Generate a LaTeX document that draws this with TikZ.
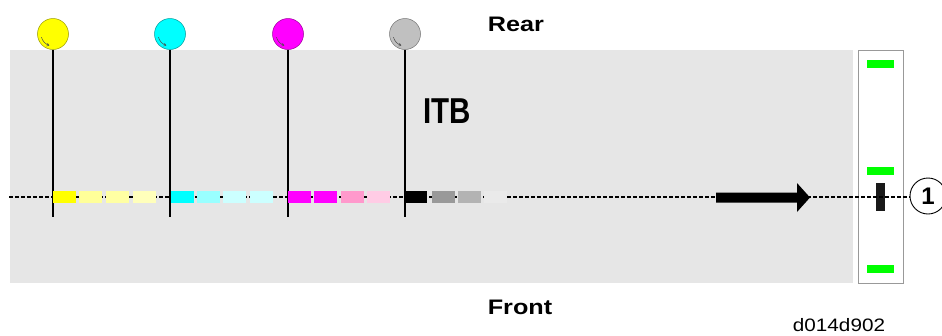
\documentclass[tikz,border=0pt]{standalone}
\usepackage{fontspec}
\setmainfont{Liberation Sans}
\usetikzlibrary{arrows.meta,calc}
\definecolor{band}{HTML}{E6E6E6}
\definecolor{boxline}{HTML}{999999}
\definecolor{grn}{HTML}{00FF00}
\definecolor{rollY}{HTML}{FFFF00}
\definecolor{rollC}{HTML}{00FFFF}
\definecolor{rollM}{HTML}{FF00FF}
\definecolor{rollK}{HTML}{C0C0C0}
\definecolor{y2}{HTML}{FFFF99}
\definecolor{y3}{HTML}{FFFFA3}
\definecolor{y4}{HTML}{FFFFBB}
\definecolor{c2}{HTML}{99FFFF}
\definecolor{c3}{HTML}{CCFFFF}
\definecolor{c4}{HTML}{CCFFFF}
\definecolor{m3}{HTML}{FF99CC}
\definecolor{m4}{HTML}{FFCCE5}
\definecolor{k2}{HTML}{999999}
\definecolor{k3}{HTML}{B3B3B3}
\definecolor{k4}{HTML}{EAEAEA}
\tikzset{
  roller/.style={circle, draw=#1!60!black, line width=0.5pt, fill=#1, minimum size=31pt, inner sep=0pt},
  patch/.style={rectangle, fill=#1, minimum width=22.5pt, minimum height=12pt, inner sep=0pt, anchor=west},
  shaft/.style={line width=1.6pt, black},
  greenbar/.style={rectangle, fill=grn, minimum width=27pt, minimum height=8pt, inner sep=0pt},
  bigtext/.style={font=\bfseries\fontsize{21}{21}\selectfont, xscale=1.2},
  rotarrow/.style={draw=black!70, line width=0.5pt, -{Straight Barb[length=2pt,width=3pt]}}
}
\begin{document}
\begin{tikzpicture}[x=1pt,y=-1pt]
\useasboundingbox (0,0) rectangle (942,335);
% ITB band
\fill[band] (10,50) rectangle (853,283);
% right box
\node[draw=boxline, line width=0.6pt, fill=white, minimum width=45pt, minimum height=233pt, inner sep=0pt] (sbox) at (880.5,166.5) {};
\node[greenbar] (g1) at (880.5,63.5) {};
\node[greenbar] (g2) at (880.5,171) {};
\node[greenbar] (g3) at (880.5,269) {};
\node[rectangle, fill=black!90, minimum width=9pt, minimum height=28pt, inner sep=0pt] (sensor) at (880.5,197) {};
% callout
\node[circle, draw=black, line width=0.9pt, minimum size=36pt, inner sep=0pt, font=\bfseries\fontsize{24}{24}\selectfont] (c1) at (928,196) {1};
% dashed belt line
\coordinate (lstart) at (9,197);
\draw[dash pattern=on 3.5pt off 2.5pt, line width=1.3pt] (lstart) -- (lstart -| c1.west);
% rollers and shafts
\foreach \n/\x/\c in {Y/53/rollY, C/170/rollC, M/288/rollM, K/405/rollK}{
  \node[roller=\c] (r\n) at (\x,34) {};
  \coordinate (e\n) at (\x,217);
  \draw[shaft] (r\n.south) -- (e\n);
  \draw[rotarrow] ($(r\n.center)+(195:12pt)$) arc[start angle=195, end angle=252, radius=12pt];
}
% patches
\foreach \n/\x/\c in {
  y1/53/rollY, y2/79/y2, y3/106/y3, y4/133/y4,
  c1/171/rollC, c2/197/c2, c3/223/c3, c4/250/c4,
  m1/288/rollM, m2/314/rollM, m3/341/m3, m4/367/m4,
  k1/404/black, k2/432/k2, k3/458/k3, k4/484/k4}{
  \node[patch=\c] (p\n) at (\x,197) {};
}
% moving direction arrow
\coordinate (a0) at (716,197.5);
\coordinate (a1) at (810,197.5);
\fill[black] (716,192.5) -- (797,192.5) -- (797,183) -- (a1) -- (797,212) -- (797,202.5) -- (716,202.5) -- cycle;
% labels
\node[bigtext] (rear) at (516,24) {Rear};
\node[bigtext] (front) at (520,307) {Front};
\node[font=\bfseries\fontsize{36}{36}\selectfont, xscale=0.82] (itb) at (447.5,111.5) {ITB};
\node[font=\fontsize{18}{18}\selectfont, xscale=1.15] (code) at (839,325) {d014d902};
\end{tikzpicture}
\end{document}
